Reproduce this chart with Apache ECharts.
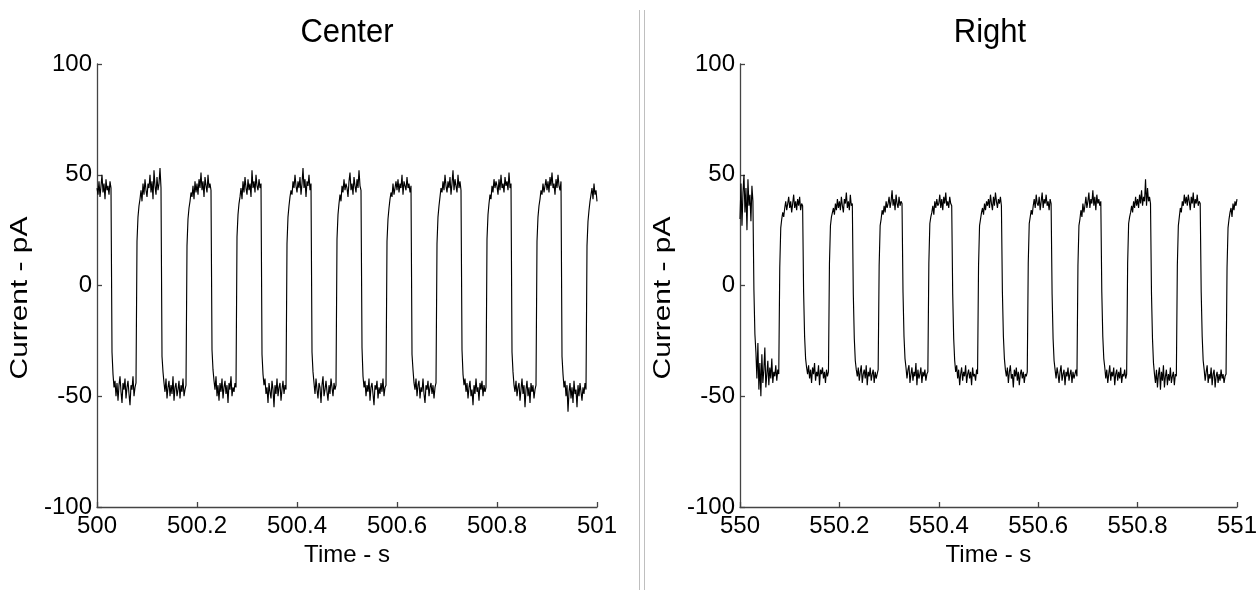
<!DOCTYPE html>
<html>
<head>
<meta charset="utf-8">
<title>Center / Right current traces</title>
<script src="https://cdn.jsdelivr.net/npm/echarts@6/dist/echarts.min.js"></script>
<style>
  html, body { margin: 0; padding: 0; background: #fff; }
  #chart { width: 1260px; height: 596px; }
</style>
</head>
<body>
<div id="chart"></div>
<script>
// Recordings sampled every 2 ms, one row per 0.1 s cycle (50 samples).
const sampleStep = 0.002;
const centerStart = 500;
const rightStart = 550;

const centerCurrent = [
  44, 41, 47, 40, 45, 50, 42, 46, 39, 48, 43, 45, 41, 47, 44, -30, -40, -46, -43, -50, -44, -52, -45, -41, -48, -53, -44, -47, -42, -51, -46, -43, -49, -54, -45, -47, -41, -50, -46, -44, 20, 31, 36, 39, 43, 38, 46, 41, 48, 43,
  40, 46, 44, 50, 42, 47, 39, 52, 45, 41, 49, 43, 46, 53, 44, -32, -39, -44, -48, -42, -51, -46, -43, -50, -45, -49, -41, -52, -46, -44, -50, -47, -43, -51, -45, -48, -42, -50, -47, -45, 18, 30, 35, 38, 42, 40, 45, 39, 47, 42,
  46, 41, 48, 44, 51, 43, 47, 40, 49, 45, 42, 50, 44, 46, 43, -29, -38, -43, -47, -41, -50, -45, -52, -44, -48, -42, -51, -46, -43, -49, -45, -53, -44, -47, -41, -50, -46, -48, -44, -46, 22, 32, 37, 40, 44, 39, 47, 42, 49, 44,
  41, 48, 43, 46, 40, 52, 44, 47, 42, 50, 45, 43, 48, 44, 46, -31, -40, -45, -42, -49, -46, -53, -44, -48, -51, -43, -47, -55, -45, -49, -42, -50, -46, -44, -52, -47, -43, -49, -45, -47, 19, 31, 36, 40, 43, 41, 47, 44, 50, 45,
  42, 47, 44, 49, 41, 46, 53, 44, 48, 40, 47, 45, 50, 43, 46, -30, -39, -44, -49, -42, -47, -51, -44, -46, -53, -45, -41, -50, -47, -43, -48, -52, -45, -49, -42, -46, -50, -44, -47, -45, 21, 32, 37, 41, 38, 45, 42, 48, 43, 46,
  44, 40, 47, 51, 43, 46, 41, 49, 45, 42, 48, 44, 52, 45, 43, -28, -41, -46, -43, -50, -45, -48, -42, -52, -46, -44, -49, -54, -45, -47, -43, -51, -46, -49, -44, -48, -42, -50, -46, -45, 20, 30, 35, 39, 42, 40, 46, 41, 44, 47,
  43, 48, 42, 46, 44, 50, 41, 47, 45, 43, 49, 44, 46, 42, 45, -31, -38, -44, -47, -42, -50, -45, -43, -51, -46, -48, -42, -49, -53, -45, -47, -43, -50, -46, -44, -49, -45, -51, -46, -44, 19, 31, 36, 40, 44, 42, 47, 43, 50, 45,
  42, 47, 44, 49, 41, 46, 52, 43, 48, 45, 42, 50, 44, 47, 43, -29, -40, -45, -42, -48, -44, -51, -46, -43, -50, -47, -54, -45, -49, -42, -48, -46, -52, -44, -47, -43, -50, -45, -48, -46, 21, 32, 37, 41, 39, 45, 42, 48, 44, 47,
  45, 41, 48, 43, 50, 44, 46, 42, 49, 45, 47, 43, 51, 44, 46, -30, -39, -45, -48, -43, -50, -46, -44, -52, -47, -42, -49, -45, -55, -47, -43, -50, -46, -53, -44, -48, -45, -51, -47, -45, 20, 31, 36, 39, 43, 41, 46, 42, 45, 48,
  43, 47, 42, 49, 45, 51, 44, 46, 41, 48, 44, 50, 45, 43, 47, -32, -40, -46, -43, -50, -45, -57, -48, -44, -51, -46, -53, -43, -49, -47, -55, -45, -50, -44, -48, -52, -46, -49, -44, -47, 18, 29, 34, 38, 41, 44, 39, 46, 41, 43,
  38
];

const rightCurrent = [
  30, 46, 27, 42, 50, 33, 44, 25, 48, 36, 41, 29, 45, 38, -2, -22, -30, -42, -26, -47, -35, -50, -31, -44, -38, -28, -46, -40, -34, -45, -37, -42, -33, -44, -39, -41, -36, -43, -38, -40, 8, 26, 30, 33, 31, 35, 38, 34, 37, 40,
  35, 38, 33, 37, 41, 35, 38, 34, 39, 36, 40, 34, 37, 36, -3, -23, -33, -37, -40, -36, -42, -38, -44, -37, -40, -35, -43, -39, -41, -36, -45, -38, -40, -37, -42, -39, -44, -38, -41, -39, 10, 27, 31, 33, 35, 32, 37, 34, 39, 35,
  38, 34, 40, 36, 33, 39, 37, 42, 35, 38, 34, 41, 36, 37, -4, -24, -34, -38, -41, -37, -43, -39, -36, -44, -40, -38, -42, -36, -45, -39, -41, -37, -43, -40, -38, -44, -39, -42, -40, -38, 9, 27, 30, 34, 32, 36, 33, 38, 35, 37,
  40, 35, 38, 43, 36, 39, 34, 41, 37, 35, 40, 36, 38, 37, -3, -23, -33, -37, -42, -38, -36, -44, -40, -37, -43, -39, -41, -35, -45, -38, -42, -40, -37, -44, -39, -41, -38, -43, -40, -39, 10, 28, 31, 33, 36, 32, 38, 35, 39, 36,
  37, 41, 35, 39, 34, 40, 37, 42, 36, 38, 35, 40, 37, 36, -4, -24, -34, -39, -36, -42, -38, -45, -40, -37, -43, -39, -41, -36, -44, -40, -38, -42, -39, -45, -37, -41, -40, -43, -38, -40, 9, 27, 30, 33, 35, 32, 37, 34, 38, 36,
  39, 35, 41, 37, 34, 40, 36, 42, 38, 35, 39, 37, 40, 36, -3, -23, -33, -38, -41, -37, -44, -39, -36, -42, -40, -46, -38, -41, -37, -43, -39, -45, -40, -38, -42, -39, -44, -40, -41, -39, 10, 28, 31, 34, 32, 36, 39, 35, 41, 37,
  36, 40, 34, 38, 42, 35, 39, 37, 41, 36, 38, 34, 39, 37, -4, -24, -34, -38, -42, -37, -40, -44, -39, -36, -43, -40, -38, -45, -39, -41, -37, -43, -40, -38, -44, -39, -42, -40, -38, -41, 9, 27, 30, 34, 31, 37, 33, 36, 40, 35,
  38, 42, 35, 39, 37, 43, 36, 40, 34, 41, 37, 39, 36, 38, -3, -23, -33, -37, -42, -38, -44, -40, -36, -43, -39, -41, -37, -45, -40, -38, -43, -39, -42, -37, -44, -40, -41, -38, -42, -40, 10, 28, 31, 33, 36, 33, 38, 35, 40, 36,
  39, 35, 41, 37, 43, 36, 40, 38, 48, 36, 44, 38, 40, 37, -4, -24, -35, -40, -44, -38, -46, -40, -37, -47, -39, -43, -36, -46, -41, -38, -45, -40, -43, -37, -44, -41, -39, -45, -40, -41, 9, 27, 31, 35, 33, 38, 36, 41, 37, 40,
  36, 41, 38, 34, 40, 37, 42, 35, 39, 37, 41, 36, 38, 37, -3, -23, -34, -38, -43, -39, -36, -44, -40, -42, -37, -45, -40, -38, -46, -41, -39, -44, -40, -43, -38, -42, -40, -44, -41, -40, 8, 26, 30, 33, 35, 31, 37, 34, 38, 36,
  39
];

const panelTitles = ['Center', 'Right'];
const currentTicks = [-100, -50, 0, 50, 100];
const timeTickStep = 0.2;

// Pair each sample with its time stamp.
function toSeries(start, values) {
  return values.map((v, i) => [start + i * sampleStep, v]);
}

const FONT = '"Liberation Sans", Arial, Helvetica, sans-serif';
const AXIS_COLOR = '#444';
const starts = [centerStart, rightStart];
const traces = [centerCurrent, rightCurrent];
const gridLefts = [97, 740];
const gridTop = 64;
const gridW = 500;
const gridH = 443;

const chart = echarts.init(document.getElementById('chart'), null, { renderer: 'canvas' });

const grids = gridLefts.map(l => ({ left: l, top: gridTop, width: gridW, height: gridH }));

const xAxes = starts.map((s, i) => ({
  gridIndex: i,
  type: 'value',
  min: s,
  max: s + 1,
  interval: timeTickStep,
  name: 'Time - s',
  nameLocation: 'middle',
  nameGap: 33,
  nameTextStyle: { fontSize: 24, color: '#000', fontFamily: FONT },
  axisLine: { show: true, onZero: false, lineStyle: { color: AXIS_COLOR, width: 1.3 } },
  axisTick: { show: true, inside: true, length: 5, lineStyle: { color: AXIS_COLOR, width: 1.3 } },
  axisLabel: {
    margin: 7, fontSize: 24, color: '#000', fontFamily: FONT,
    showMinLabel: true, showMaxLabel: true,
    formatter: v => String(Math.round(v * 10) / 10)
  },
  splitLine: { show: false }
}));

const yAxes = starts.map((s, i) => ({
  gridIndex: i,
  type: 'value',
  min: currentTicks[0],
  max: currentTicks[currentTicks.length - 1],
  interval: currentTicks[1] - currentTicks[0],
  axisLine: { show: true, onZero: false, lineStyle: { color: AXIS_COLOR, width: 1.3 } },
  axisTick: { show: true, inside: true, length: 5, lineStyle: { color: AXIS_COLOR, width: 1.3 } },
  axisLabel: { margin: 5, fontSize: 24, color: '#000', fontFamily: FONT },
  splitLine: { show: false }
}));

const series = traces.map((vals, i) => ({
  type: 'line',
  xAxisIndex: i,
  yAxisIndex: i,
  data: toSeries(starts[i], vals),
  showSymbol: false,
  symbol: 'none',
  sampling: null,
  lineStyle: { color: '#000', width: 1.15 },
  animation: false
}));

const graphics = [];
// Panel separator: a pair of thin grey rules.
[639.5, 644.5].forEach(x => graphics.push({
  type: 'line',
  shape: { x1: x, y1: 10, x2: x, y2: 590 },
  style: { stroke: '#bfbfbf', lineWidth: 1 },
  silent: true
}));
gridLefts.forEach((l, i) => {
  graphics.push({
    type: 'text',
    x: l + gridW / 2,
    y: 33,
    scaleY: 1.06,
    style: {
      text: panelTitles[i], font: '31px ' + FONT, fill: '#000',
      align: 'center', verticalAlign: 'middle'
    }
  });
  graphics.push({
    type: 'text',
    x: l - 76,
    y: 298,
    rotation: Math.PI / 2,
    scaleX: 1.3,
    style: {
      text: 'Current - pA', font: '23px ' + FONT, fill: '#000',
      align: 'center', verticalAlign: 'middle'
    }
  });
});

chart.setOption({
  backgroundColor: '#fff',
  animation: false,
  grid: grids,
  xAxis: xAxes,
  yAxis: yAxes,
  series: series,
  graphic: graphics
});
</script>
</body>
</html>
